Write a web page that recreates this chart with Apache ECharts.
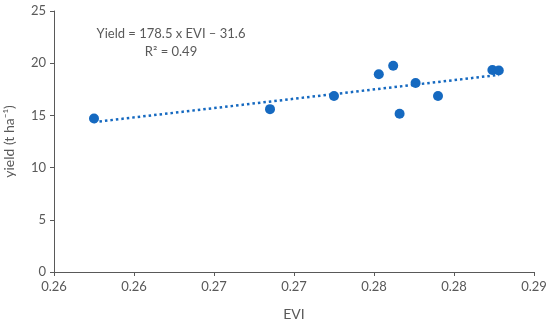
<!DOCTYPE html>
<html>
<head>
<meta charset="utf-8">
<script src="https://cdn.jsdelivr.net/npm/echarts@6/dist/echarts.min.js"></script>
<style>
html,body{margin:0;padding:0;background:#fff;}
#chart{width:550px;height:325px;}
</style>
</head>
<body>
<div id="chart"></div>
<script>
var evi = [0.2575, 0.2685, 0.2725, 0.2753, 0.2762, 0.2766, 0.2776, 0.2790, 0.2824, 0.2828];
var yieldVals = [14.7, 15.6, 16.85, 18.95, 19.75, 15.15, 18.1, 16.85, 19.35, 19.3];
var trendX = [0.2575, 0.2828];
var trendY = [14.36, 18.88];
var xTickLabels = ['0.26', '0.26', '0.27', '0.27', '0.28', '0.28', '0.29'];
var yTickLabels = ['0', '5', '10', '15', '20', '25'];
var equationText = 'Yield = 178.5 x EVI – 31.6';
var r2Text = 'R² = 0.49';

var xMin = 0.255, xStep = 0.005, xMax = 0.285;
var axisColor = '#595959';
var textColor = '#595959';
var blue = '#1569c0';
var font = 'Lato, "Open Sans", sans-serif';

var chart = echarts.init(document.getElementById('chart'), null, {renderer: 'canvas'});
chart.setOption({
  animation: false,
  backgroundColor: '#fff',
  grid: {left: 54, right: 16, top: 11, bottom: 53, containLabel: false, outerBoundsMode: 'none'},
  xAxis: {
    type: 'value', min: xMin, max: xMax, interval: xStep,
    name: 'EVI', nameLocation: 'middle', nameGap: 35,
    nameTextStyle: {color: textColor, fontSize: 14, fontFamily: font},
    axisLine: {show: true, lineStyle: {color: axisColor, width: 1}},
    axisTick: {show: true, length: 4, lineStyle: {color: axisColor}},
    splitLine: {show: false},
    axisLabel: {
      color: textColor, fontSize: 13, fontFamily: font, margin: 8,
      formatter: function (v) { return xTickLabels[Math.round((v - xMin) / xStep)]; }
    }
  },
  yAxis: {
    type: 'value', min: 0, max: 25, interval: 5,
    name: 'yield (t ha⁻¹)', nameLocation: 'middle', nameGap: 38,
    nameTextStyle: {color: textColor, fontSize: 14, fontFamily: font},
    axisLine: {show: true, lineStyle: {color: axisColor, width: 1}},
    axisTick: {show: true, length: 4, lineStyle: {color: axisColor}},
    splitLine: {show: false},
    axisLabel: {
      color: textColor, fontSize: 13, fontFamily: font, margin: 8,
      formatter: function (v) { return yTickLabels[Math.round(v / 5)]; }
    }
  },
  series: [
    {
      type: 'line',
      data: trendX.map(function (x, i) { return [x, trendY[i]]; }),
      symbol: 'none',
      lineStyle: {color: blue, width: 2.5, type: [2.5, 3]},
      z: 2
    },
    {
      type: 'scatter',
      data: evi.map(function (x, i) { return [x, yieldVals[i]]; }),
      symbol: 'circle', symbolSize: 10,
      itemStyle: {color: blue, opacity: 1},
      z: 3
    }
  ],
  graphic: [
    {type: 'text', x: 171, y: 34,
     style: {text: equationText, fill: textColor, font: '13px ' + font, align: 'center', verticalAlign: 'middle'}},
    {type: 'text', x: 171, y: 52,
     style: {text: r2Text, fill: textColor, font: '13px ' + font, align: 'center', verticalAlign: 'middle'}}
  ]
});
</script>
</body>
</html>
